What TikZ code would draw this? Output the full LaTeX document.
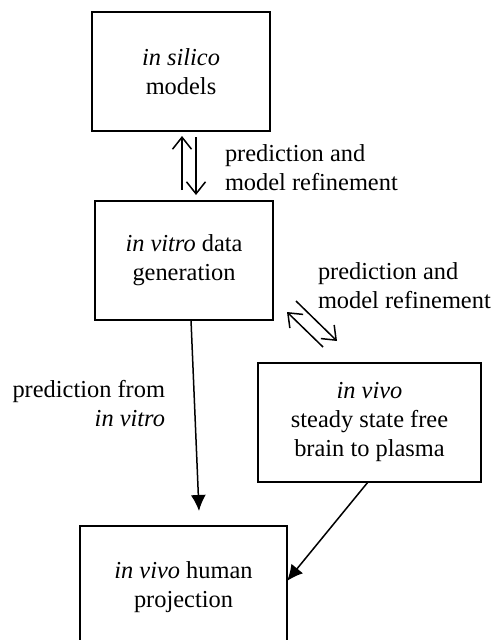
\documentclass[tikz,border=0pt]{standalone}
\usepackage{fontspec}
\setmainfont{Liberation Serif}
\usetikzlibrary{arrows.meta}

\tikzset{
	box/.style={draw,line width=1.6pt,align=center,inner sep=0,outer sep=0},
	lbl/.style={inner sep=0,outer sep=0},
	openhead/.style={line width=1.5pt,-{Straight Barb[length=12pt,width=19pt,line width=1.5pt]}},
	fullhead/.style={line width=1.5pt,-{Latex[length=16pt,width=15pt]}}
}

\begin{document}
\begin{tikzpicture}[x=1pt,y=-1pt,font=\fontsize{24.4}{29}\selectfont]
	\clip (0,0) rectangle (492,640);
	\node[box,minimum width=178,minimum height=119] (silico) at (181,71.5) {\textit{in silico}\\models};
	\node[box,minimum width=178,minimum height=119] (vitro) at (184,260.5) {\textit{in vitro} data\\generation};
	\node[box,minimum width=223,minimum height=119] (vivo) at (369.5,422.5) {\textit{in vivo}\\steady state free\\brain to plasma};
	\node[box,minimum width=207,minimum height=122] (human) at (183.5,587) {\textit{in vivo} human\\projection};
	% labels
	\node[lbl,anchor=west,align=left] (lab1) at (225,167.5) {prediction and\\model refinement};
	\node[lbl,anchor=west,align=left] (lab2) at (318,286) {prediction and\\model refinement};
	\node[lbl,anchor=east,align=right] (lab3) at (165,404) {prediction from\\\textit{in vitro}};
	% arrows
	\draw[openhead] ([xshift=-2pt,yshift=11pt]vitro.north) -- ([xshift=1pt,yshift=-5pt]silico.south);
	\draw[openhead] ([xshift=15pt,yshift=-6pt]silico.south) -- ([xshift=12pt,yshift=6pt]vitro.north);
	\draw[openhead] ([xshift=65pt,yshift=16pt]vivo.north west) -- ([xshift=14pt,yshift=8pt]vitro.south east);
	\draw[openhead] ([xshift=23pt,yshift=19pt]vitro.south east) -- ([xshift=79pt,yshift=22pt]vivo.north west);
	\draw[fullhead] ([xshift=7pt]vitro.south) -- ([xshift=15.5pt,yshift=15pt]human.north);
	\draw[fullhead] ([xshift=-1.5pt]vivo.south) -- ([yshift=6pt]human.east);
\end{tikzpicture}
\end{document}
